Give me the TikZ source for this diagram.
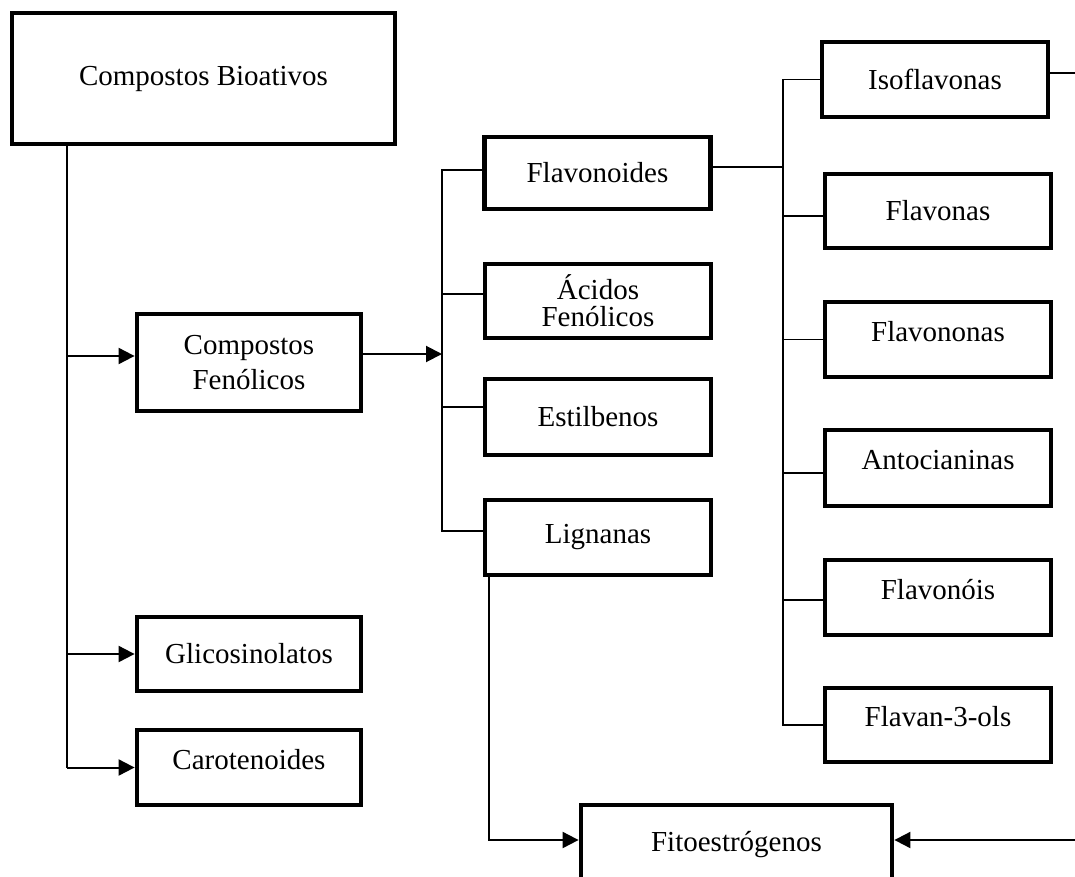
\documentclass[tikz,border=0pt]{standalone}
\usepackage{fontspec}
\setmainfont{Liberation Serif}
\usetikzlibrary{arrows.meta}

\begin{document}
\begin{tikzpicture}[x=1pt,y=-1pt,
    caixa/.style={draw,line width=4.8pt,align=center,inner sep=2pt,minimum width=226pt,minimum height=75pt,font=\fontsize{29}{31}\selectfont},
    alto/.style={text depth=17pt},
    fio/.style={line width=1.3pt},
    fiogrosso/.style={line width=2pt},
    seta/.style={line width=2pt,-{Triangle[length=16pt,width=16pt]}}]
    \clip (0,0) rectangle (1075,877);
    \fill[white] (0,0) rectangle (1075,877);
    \node[caixa,minimum width=383pt,minimum height=131pt] (bio) at (203.5,78.5) {Compostos Bioativos};
    \node[caixa,minimum width=224pt,minimum height=97pt] (fen) at (249,362.5) {Compostos\\[4pt]Fenólicos};
    \node[caixa,minimum width=224pt,minimum height=74pt] (gli) at (249,654) {Glicosinolatos};
    \node[caixa,alto,minimum width=224pt] (car) at (249,767.5) {Carotenoides};
    \node[caixa,minimum height=72pt] (flav) at (597.5,173) {Flavonoides};
    \node[caixa,minimum height=74pt] (aci) at (598,301) {Ácidos\\[-4pt]Fenólicos};
    \node[caixa,minimum height=76pt] (est) at (598,417) {Estilbenos};
    \node[caixa] (lig) at (598,537.5) {Lignanas};
    \node[caixa] (iso) at (935,79.5) {Isoflavonas};
    \node[caixa,minimum height=74pt] (fla) at (938,211) {Flavonas};
    \node[caixa,alto] (fln) at (938,339.5) {Flavononas};
    \node[caixa,alto,minimum height=76pt] (ant) at (938,468) {Antocianinas};
    \node[caixa,alto] (flo) at (938,597.5) {Flavonóis};
    \node[caixa,alto,minimum height=74pt] (fla3) at (938,725) {Flavan-3-ols};
    \node[caixa,alto,minimum width=311pt,minimum height=90pt] (fito) at (736.5,850) {Fitoestrógenos};
    \coordinate (tronco) at (67,0);
    \coordinate (eixoA) at (442,0);
    \coordinate (eixoB) at (783,0);
    \coordinate (saidaIso) at (1075,73);
    \coordinate (entradaFito) at (1075,840);
    \coordinate (fenW) at ([yshift=6.5pt]fen.west);
    \coordinate (fenE) at ([yshift=8.5pt]fen.east);
    \coordinate (flavW) at ([yshift=3pt]flav.west);
    \coordinate (flavE) at ([yshift=6pt]flav.east);
    \coordinate (aciW) at ([yshift=7pt]aci.west);
    \coordinate (estW) at ([yshift=10pt]est.west);
    \coordinate (ligW) at ([yshift=6.5pt]lig.west);
    \coordinate (ligS) at ([xshift=6pt]lig.south west);
    \coordinate (isoE) at ([yshift=6.5pt]iso.east);
    \coordinate (flaW) at ([yshift=-5pt]fla.west);
    \coordinate (antW) at ([yshift=-5pt]ant.west);
    \coordinate (floW) at ([yshift=-2.5pt]flo.west);
    \coordinate (fitoW) at ([yshift=10pt]fito.west);
    \coordinate (fitoE) at ([yshift=10pt]fito.east);
    \draw[fiogrosso] (bio.south -| tronco) -- (car.west -| tronco);
    \draw[seta] (tronco |- fenW) -- (fenW);
    \draw[seta] (tronco |- gli.west) -- (gli.west);
    \draw[seta] (tronco |- car.west) -- (car.west);
    \draw[seta] (fenE) -- (eixoA |- fenE);
    \draw[fio] (flavW) -| (eixoA |- ligW) -- (ligW);
    \draw[fio] (eixoA |- aciW) -- (aciW);
    \draw[fio] (eixoA |- estW) -- (estW);
    \draw[fio] (flavE) -- (eixoB |- flavE);
    \draw[fio] (iso.west) -| (eixoB |- fla3.west) -- (fla3.west);
    \draw[fio] (eixoB |- flaW) -- (flaW);
    \draw[fio] (eixoB |- fln.west) -- (fln.west);
    \draw[fio] (eixoB |- antW) -- (antW);
    \draw[fio] (eixoB |- floW) -- (floW);
    \draw[fiogrosso] (isoE) -- (saidaIso);
    \draw[seta] (ligS) |- (fitoW);
    \draw[seta] (entradaFito) -- (fitoE);
\end{tikzpicture}
\end{document}
